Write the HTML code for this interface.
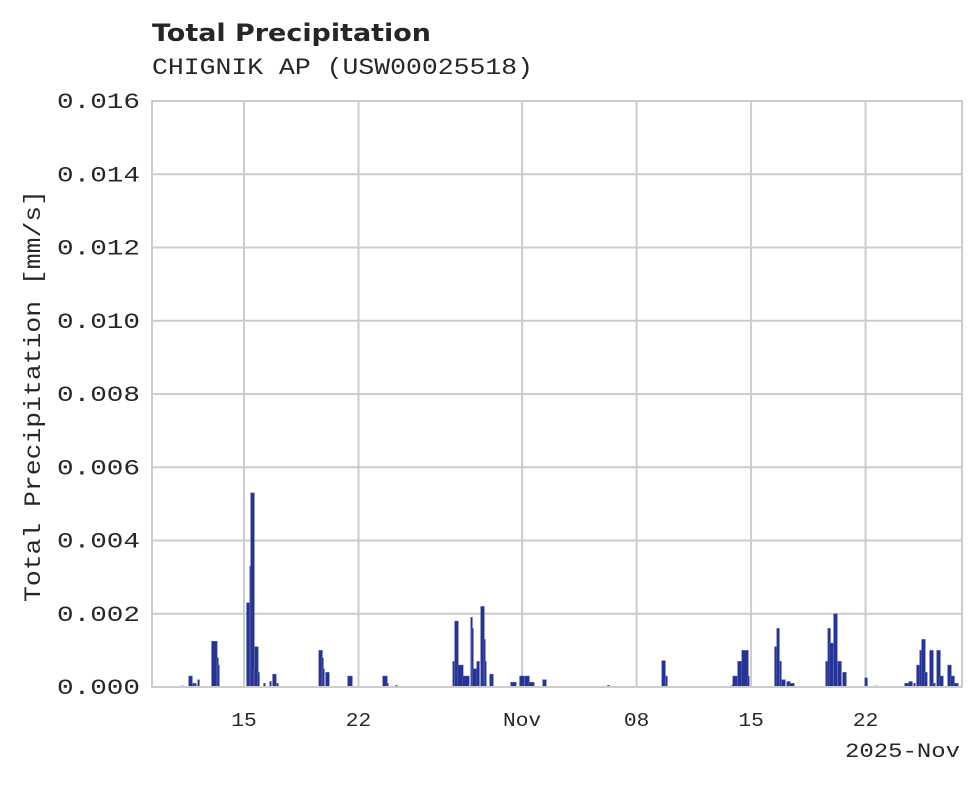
<!DOCTYPE html>
<html><head><meta charset="utf-8"><style>
html,body{margin:0;padding:0;background:#fff;}
svg text{font-family:"Liberation Mono","DejaVu Sans Mono",monospace;fill:#262626;}
</style></head><body>
<svg id="chart" width="980" height="783" viewBox="0 0 980 783">
<text x="152" y="41" textLength="279" lengthAdjust="spacingAndGlyphs" style="font-family:'DejaVu Sans','Liberation Sans',sans-serif;font-weight:bold;font-size:24px">Total Precipitation</text>
<text x="152" y="74" textLength="381" lengthAdjust="spacingAndGlyphs" style="font-size:23px">CHIGNIK AP (USW00025518)</text>
<g id="grid"></g><g id="bars"></g><g id="axes"></g>
<text transform="translate(40,396) rotate(-90)" text-anchor="middle" textLength="412" lengthAdjust="spacingAndGlyphs" style="font-size:23px">Total Precipitation [mm/s]</text>
<text x="960" y="757" text-anchor="end" textLength="115" lengthAdjust="spacingAndGlyphs" style="font-size:20px">2025-Nov</text>
</svg>
<script>
// days since Oct 1 2025 (Oct 15 = day 14)
const starts=[10.21,10.64,10.88,11.00,11.19,12.04,12.35,12.41,14.18,14.37,14.43,14.61,14.67,14.86,15.22,15.59,15.77,16.02,18.59,18.77,18.83,19.01,20.36,22.50,22.74,23.29,26.78,26.90,27.08,27.39,27.88,27.94,28.00,28.25,28.49,28.67,28.73,29.04,30.32,30.87,31.18,31.42,32.28,36.25,39.56,39.80,43.84,43.90,44.20,44.45,44.81,46.46,46.59,46.77,46.89,47.20,47.38,49.58,49.71,49.83,50.07,50.32,50.62,51.97,52.64,54.41,54.66,54.96,55.14,55.33,55.45,55.63,55.94,56.12,56.37,56.55,57.04,57.23,57.41];
const durations=[.06,.18,.06,.06,.06,.3,.06,.06,.18,.06,.18,.06,.18,.06,.06,.06,.18,.06,.18,.06,.06,.18,.24,.24,.06,.06,.06,.18,.3,.36,.06,.06,.24,.12,.18,.06,.06,.18,.3,.24,.24,.3,.18,.06,.18,.06,.06,.24,.24,.36,.06,.12,.12,.06,.18,.18,.24,.12,.12,.18,.18,.18,.18,.12,.06,.24,.18,.06,.18,.12,.18,.12,.18,.12,.18,.18,.18,.18,.24];
const values=[.00003,.0003,.0001,.0001,.0002,.00125,.0008,.0006,.0023,.0033,.0053,.0005,.0011,.0004,.0001,.00015,.00035,.0001,.001,.0008,.0005,.0004,.0003,.0003,.0001,.00005,.0007,.0018,.0006,.0003,.0019,.0016,.0005,.0007,.0022,.0013,.0007,.00035,.00013,.0003,.0003,.00013,.0002,.00005,.00072,.0003,.00005,.0003,.0007,.001,.0003,.0011,.0016,.0007,.0002,.00015,.0001,.0007,.0016,.0012,.002,.0007,.0004,.00025,.00003,.0001,.00015,.0001,.0006,.001,.0013,.0004,.001,.0001,.001,.0003,.0006,.0003,.0001];
const yTicks=[0,0.002,0.004,0.006,0.008,0.010,0.012,0.014,0.016];
const xTickDays=[14,21,31,38,45,52];
const xTickLabels=["15","22","Nov","08","15","22"];

const L=152,R=962,T=101,B=687,dayMin=8.375,dayMax=57.895;
const xs=d=>L+(d-dayMin)/(dayMax-dayMin)*(R-L);
const ys=v=>B-v/0.016*(B-T);
const NS="http://www.w3.org/2000/svg";
function mk(tag,attrs,parent){const e=document.createElementNS(NS,tag);for(const k in attrs)e.setAttribute(k,attrs[k]);parent.appendChild(e);return e;}
const grid=document.getElementById('grid'),bars=document.getElementById('bars'),axes=document.getElementById('axes');
yTicks.forEach(v=>{
  const l=mk('line',{x1:L,x2:R,y1:ys(v),y2:ys(v),stroke:'#cccccc','stroke-width':2},grid);
  
  
  const t=mk('text',{x:L-12,y:ys(v)+7,'text-anchor':'end','font-size':'22',textLength:'83',lengthAdjust:'spacingAndGlyphs'},axes);
  t.textContent=v.toFixed(3);
  
  
});
xTickDays.forEach((d,i)=>{
  const l=mk('line',{x1:xs(d),x2:xs(d),y1:T,y2:B,stroke:'#cccccc','stroke-width':2},grid);
  
  
  const t=mk('text',{x:xs(d),y:726,'text-anchor':'middle','font-size':'19',textLength:String(12.7*xTickLabels[i].length),lengthAdjust:'spacingAndGlyphs'},axes);
  t.textContent=xTickLabels[i];
  
  
});
const fr=mk('rect',{x:L,y:T,width:R-L,height:B-T,fill:'none',stroke:'#cccccc','stroke-width':2},axes);


starts.forEach((s,i)=>{
  const x0=xs(s),x1=xs(s+durations[i]);
  const r=mk('rect',{x:x0-0.4,y:ys(values[i]),width:Math.max(1.8,x1-x0+0.8),height:B-ys(values[i]),fill:'#253494',stroke:'#5a66b0','stroke-width':0.5},bars);
  
  
});
</script>
</body></html>
